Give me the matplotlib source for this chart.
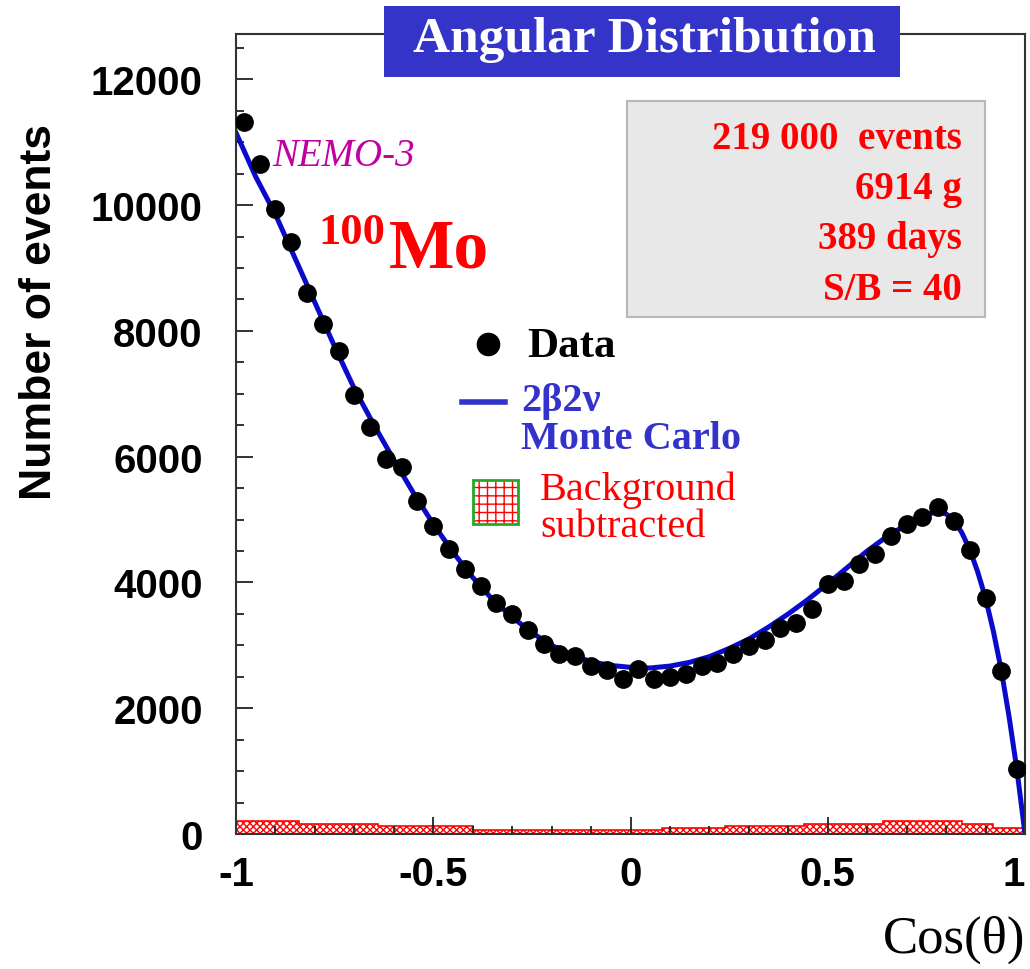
import numpy as np
import matplotlib
matplotlib.use("Agg")
import matplotlib.pyplot as plt
from matplotlib.patches import Rectangle
from matplotlib.ticker import MultipleLocator

# measured points (bin centres, width 0.04)
cos_bins = np.round(np.arange(-0.98, 1.0, 0.04), 2)
data_counts = [11320, 10650, 9940, 9410, 8600, 8110, 7680, 6980, 6470, 5960,
               5830, 5290, 4900, 4530, 4210, 3940, 3670, 3500, 3240, 3020,
               2860, 2830, 2670, 2600, 2460, 2630, 2460, 2500, 2540, 2670,
               2720, 2860, 2990, 3080, 3280, 3350, 3580, 3980, 4020, 4290,
               4450, 4740, 4930, 5040, 5200, 4980, 4520, 3750, 2590, 1030]

# 2b2v Monte Carlo curve
mc_x = [-1.00, -0.95, -0.90, -0.85, -0.80, -0.75, -0.70, -0.65, -0.60, -0.55,
        -0.50, -0.45, -0.40, -0.35, -0.30, -0.25, -0.20, -0.15, -0.10, -0.05,
        0.00, 0.05, 0.10, 0.15, 0.20, 0.25, 0.30, 0.35, 0.40, 0.45,
        0.50, 0.55, 0.60, 0.65, 0.70, 0.75, 0.78, 0.80, 0.82, 0.84,
        0.86, 0.88, 0.90, 0.92, 0.94, 0.96, 0.98, 1.00]
mc_y = [11150, 10450, 9850, 9150, 8450, 7750, 7080, 6500, 5950, 5420,
        4930, 4480, 4080, 3730, 3450, 3200, 3000, 2850, 2740, 2680,
        2650, 2640, 2670, 2730, 2820, 2950, 3100, 3290, 3500, 3730,
        3980, 4240, 4500, 4730, 4920, 5080, 5130, 5090, 4980, 4790,
        4520, 4170, 3750, 3220, 2600, 1850, 1000, 0]

# subtracted background (step histogram)
bkg_edges = [-1.0, -0.84, -0.64, -0.40, 0.08, 0.24, 0.44, 0.64, 0.84, 0.92, 1.0]
bkg_counts = [200, 165, 135, 65, 100, 125, 165, 200, 165, 100]

x_ticks = [-1, -0.5, 0, 0.5, 1]
x_ticklabels = ["-1", "-0.5", "0", "0.5", "1"]
info_lines = ["219 000  events", "6914 g", "389 days", "S/B = 40"]

W, H = 1030, 970
fig = plt.figure(figsize=(W / 100, H / 100), dpi=100)
ax = fig.add_axes([236 / W, 1 - 835 / H, (1025 - 236) / W, (835 - 35) / H])


def px(x, y):
    return x / W, 1 - y / H


ax.stairs(bkg_counts, bkg_edges, fill=True, facecolor="white",
          edgecolor="red", hatch="xxxxx", linewidth=1.2, zorder=1)
ax.plot(mc_x, mc_y, color="#0a0acc", lw=3.6, zorder=2)
ax.plot(cos_bins, data_counts, "o", color="black", ms=12.5, zorder=3)

ax.set_xlim(-1, 1)
ax.set_ylim(0, 12720)
ax.set_xticks(x_ticks, labels=x_ticklabels)
ax.xaxis.set_minor_locator(MultipleLocator(0.1))
ax.yaxis.set_major_locator(MultipleLocator(2000))
ax.yaxis.set_minor_locator(MultipleLocator(500))
ax.tick_params(which="both", direction="in", top=False, right=False,
               width=1.3, color="#222222")
ax.tick_params(which="major", length=12)
ax.tick_params(which="minor", length=6)
ax.tick_params(axis="x", pad=15)
ax.tick_params(axis="y", pad=24)
for lab in ax.get_xticklabels() + ax.get_yticklabels():
    lab.set_fontfamily("Liberation Sans")
    lab.set_fontweight("bold")
    lab.set_fontsize(29)
ax.xaxis.get_major_ticks()[-1].label1.set_horizontalalignment("right")
for sp in ax.spines.values():
    sp.set_linewidth(1.5)
    sp.set_color("#333333")

fig.text(*px(40, 312), "Number of events", rotation=90, ha="center",
         va="center", fontsize=32, fontweight="bold", family="Liberation Sans")
fig.text(*px(1025, 940), "Cos(\u03b8)", ha="right", va="center",
         fontsize=38, family="Liberation Serif")

# title box
fig.patches.append(Rectangle(px(384, 78), 516 / W, 71 / H,
                             transform=fig.transFigure, facecolor="#3434c8",
                             edgecolor="none", zorder=5))
fig.text(*px(644, 40), "Angular Distribution", ha="center", va="center",
         fontsize=37, fontweight="bold", family="Liberation Serif",
         color="white", zorder=6)

# info box
fig.patches.append(Rectangle(px(627, 318), 358 / W, 216 / H,
                             transform=fig.transFigure, facecolor="#e8e8e8",
                             edgecolor="#b8b8b8", lw=1.5, zorder=5))
for i, line in enumerate(info_lines):
    fig.text(*px(962, 140 + i * 50), line, ha="right", va="center",
             fontsize=28, fontweight="bold", family="Liberation Serif",
             color="red", zorder=6)

fig.text(*px(272, 157), "NEMO-3", ha="left", va="center", fontsize=28,
         style="italic", family="Liberation Serif", color="#c000a0")
fig.text(*px(318, 233), "100", ha="left", va="center", fontsize=32,
         fontweight="bold", family="Liberation Serif", color="red")
fig.text(*px(389, 250), "Mo", ha="left", va="center", fontsize=50,
         fontweight="bold", family="Liberation Serif", color="red")

# legend by hand
ax_leg = fig.add_axes([0, 0, 1, 1], facecolor="none")
ax_leg.set_xlim(0, W)
ax_leg.set_ylim(H, 0)
ax_leg.axis("off")
ax_leg.plot([488], [345], "o", color="black", ms=16)
ax_leg.text(527, 347, "Data", ha="left", va="center", fontsize=31,
            fontweight="bold", family="Liberation Serif")
ax_leg.plot([462, 505], [403, 403], color="#3333cc", lw=4)
ax_leg.text(521, 402, "2\u03b22\u03bd", ha="left", va="center", fontsize=29,
            fontweight="bold", family="Liberation Serif", color="#3333cc")
ax_leg.text(521, 440, "Monte Carlo", ha="left", va="center", fontsize=29,
            fontweight="bold", family="Liberation Serif", color="#3333cc")
ax_leg.add_patch(Rectangle((473, 481), 45, 44, facecolor="white",
                           edgecolor="red", hatch="++", lw=0))
ax_leg.add_patch(Rectangle((473, 481), 45, 44, facecolor="none",
                           edgecolor="#22aa22", lw=2))
ax_leg.text(540, 490, "Background", ha="left", va="center", fontsize=29,
            family="Liberation Serif", color="red")
ax_leg.text(540, 528, "subtracted", ha="left", va="center", fontsize=29,
            family="Liberation Serif", color="red")

fig.savefig("out.png", dpi=100)
